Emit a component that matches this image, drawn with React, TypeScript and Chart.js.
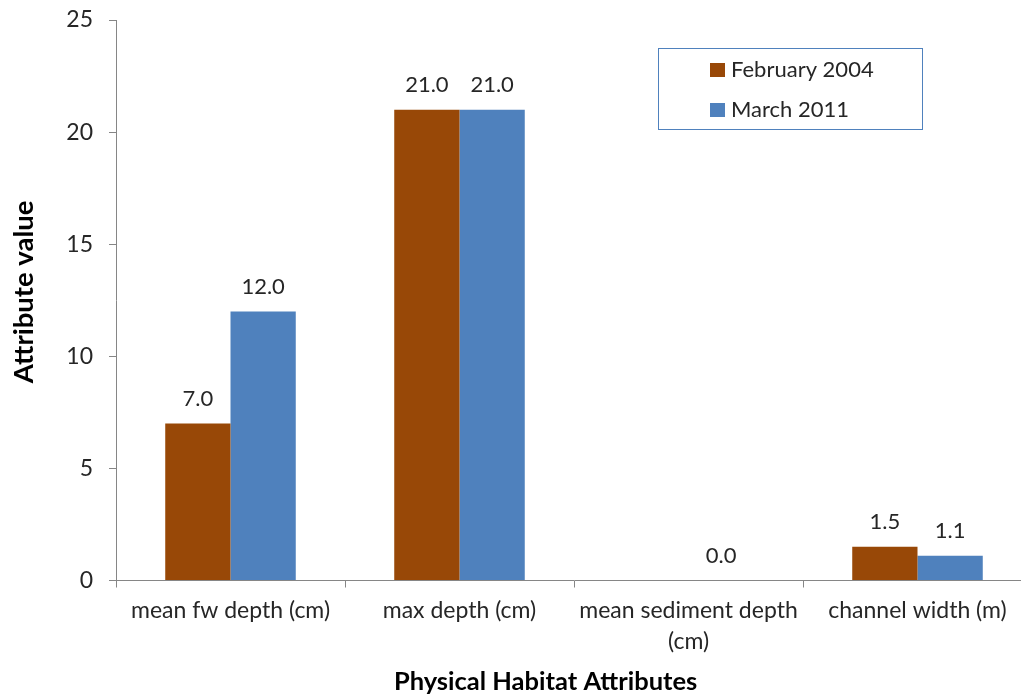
import React, { useEffect, useRef } from "react";
import { Chart, registerables } from "chart.js";

Chart.register(...registerables);

const categories: string[][] = [
  ["mean fw depth (cm)"],
  ["max depth (cm)"],
  ["mean sediment depth", "(cm)"],
  ["channel width (m)"],
];
const seriesNames = ["February 2004", "March 2011"];
const feb2004: (number | null)[] = [7.0, 21.0, null, 1.5];
const mar2011: (number | null)[] = [12.0, 21.0, 0.0, 1.1];
const seriesColors = ["#984807", "#4F81BD"];
const yMin = 0;
const yMax = 25;
const yStep = 5;
const xTitle = "Physical Habitat Attributes";
const yTitle = "Attribute value";

const FONT = "Lato, 'Open Sans', sans-serif";
const AXIS = "#868686";
const TEXT = "#262626";

const dataLabels = {
  id: "dataLabels",
  afterDatasetsDraw(chart: any) {
    const ctx = chart.ctx;
    ctx.save();
    ctx.font = `22px ${FONT}`;
    ctx.fillStyle = TEXT;
    ctx.textAlign = "center";
    ctx.textBaseline = "middle";
    chart.data.datasets.forEach((ds: any, i: number) => {
      const meta = chart.getDatasetMeta(i);
      meta.data.forEach((el: any, j: number) => {
        const v = ds.data[j];
        if (v === null || v === undefined) return;
        ctx.fillText(Number(v).toFixed(1), el.x, el.y - 25);
      });
    });
    ctx.restore();
  },
};

const boxLegend = {
  id: "boxLegend",
  afterDraw(chart: any) {
    const ctx = chart.ctx;
    const left = 658;
    const top = 48;
    const w = 264;
    const h = 81;
    ctx.save();
    ctx.strokeStyle = "#4F81BD";
    ctx.lineWidth = 1;
    ctx.strokeRect(left + 0.5, top + 0.5, w, h);
    ctx.font = `22px ${FONT}`;
    ctx.textAlign = "left";
    ctx.textBaseline = "middle";
    chart.data.datasets.forEach((ds: any, i: number) => {
      const cy = top + 22 + i * 40;
      ctx.fillStyle = ds.backgroundColor;
      ctx.fillRect(left + 52, cy - 7, 15, 14);
      ctx.fillStyle = TEXT;
      ctx.fillText(ds.label, left + 73, cy);
    });
    ctx.restore();
  },
};

const axisTitles = {
  id: "axisTitles",
  afterDraw(chart: any) {
    const ctx = chart.ctx;
    const xs = chart.scales.x;
    const ys = chart.scales.y;
    ctx.save();
    ctx.fillStyle = "#000";
    ctx.textAlign = "center";
    ctx.textBaseline = "middle";
    ctx.font = `bold 25.5px ${FONT}`;
    ctx.fillText(xTitle, xs.left + (xs.right - xs.left) * 0.469, chart.height - 16);
    ctx.translate(24, ys.top + (ys.bottom - ys.top) * 0.485);
    ctx.rotate(-Math.PI / 2);
    ctx.font = `bold 27.5px ${FONT}`;
    ctx.fillText(yTitle, 0, 0);
    ctx.restore();
  },
};

export default function App() {
  const ref = useRef<HTMLCanvasElement | null>(null);

  useEffect(() => {
    if (!ref.current) return;
    const chart = new Chart(ref.current, {
      type: "bar",
      data: {
        labels: categories as any,
        datasets: [
          {
            label: seriesNames[0],
            data: feb2004,
            backgroundColor: seriesColors[0],
            categoryPercentage: 0.57,
            barPercentage: 1.0,
          },
          {
            label: seriesNames[1],
            data: mar2011,
            backgroundColor: seriesColors[1],
            categoryPercentage: 0.57,
            barPercentage: 1.0,
          },
        ],
      },
      options: {
        responsive: false,
        animation: false,
        devicePixelRatio: 1,
        layout: { padding: { top: 20, right: 13, bottom: 0, left: 0 } },
        plugins: {
          legend: { display: false },
          tooltip: { enabled: false },
          title: { display: false },
        },
        scales: {
          x: {
            offset: true,
            grid: {
              offset: true,
              drawOnChartArea: false,
              tickLength: 7,
              color: AXIS,
            },
            border: { color: AXIS, width: 1 },
            ticks: {
              autoSkip: false,
              maxRotation: 0,
              minRotation: 0,
              padding: 8,
              color: TEXT,
              font: { family: FONT, size: 23, lineHeight: 1.35 },
            },
            afterFit: (s: any) => {
              s.height = 117.5;
              s.paddingLeft = 0;
              s.paddingRight = 0;
            },
          },
          y: {
            min: yMin,
            max: yMax,
            grid: {
              drawOnChartArea: false,
              tickLength: 7,
              color: AXIS,
            },
            border: { color: AXIS, width: 1 },
            ticks: {
              stepSize: yStep,
              padding: 16,
              color: TEXT,
              font: { family: FONT, size: 23 },
            },
            afterFit: (s: any) => {
              s.width = 116;
              s.paddingTop = 0;
              s.paddingBottom = 0;
            },
          },
        },
      },
      plugins: [dataLabels, boxLegend, axisTitles],
    } as any);
    return () => chart.destroy();
  }, []);

  return (
    <div
      style={{
        position: "fixed",
        left: 0,
        top: 0,
        width: 1021,
        height: 698,
        overflow: "hidden",
        background: "#fff",
      }}
    >
      <canvas ref={ref} width={1045} height={698} style={{ display: "block" }} />
    </div>
  );
}
